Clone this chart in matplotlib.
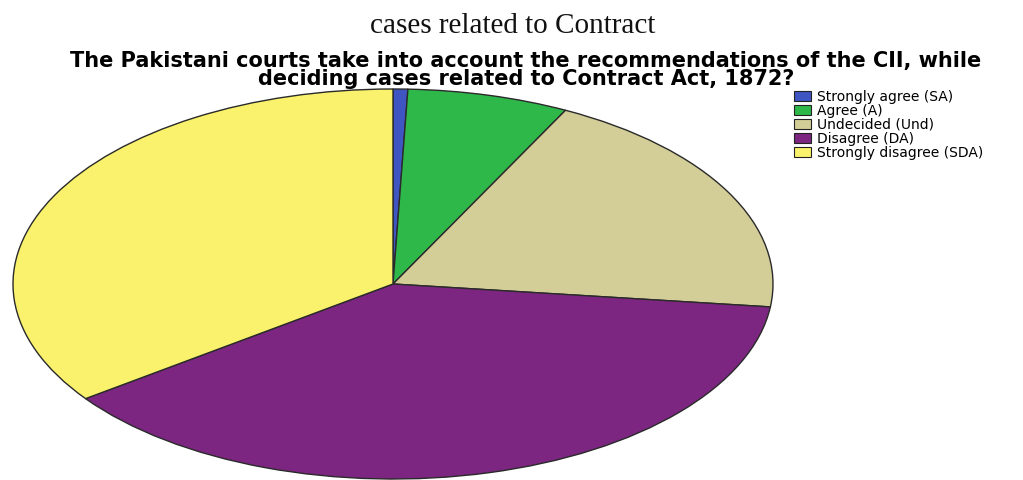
import matplotlib
matplotlib.use("Agg")
import matplotlib.pyplot as plt
from matplotlib.patches import Patch

# Survey responses (counts)
categories = [
    "Strongly agree (SA)",
    "Agree (A)",
    "Undecided (Und)",
    "Disagree (DA)",
    "Strongly disagree (SDA)",
]
counts = [1, 11, 31, 61, 56]
colors = ["#3F55C2", "#2FB84A", "#D3CE97", "#7C2681", "#FAF26C"]

caption = "cases related to Contract"
title = ("The Pakistani courts take into account the recommendations of the CII, while\n"
         "deciding cases related to Contract Act, 1872?")

W, H = 1023, 480
fig = plt.figure(figsize=(W / 100, H / 100), dpi=100)
fig.patch.set_facecolor("white")

# Pie drawn in an axes that is wider than tall, giving an elliptical pie
cx, cy, rx, ry = 393, 284, 380, 195
ax = fig.add_axes([(cx - rx) / W, (H - cy - ry) / H, 2 * rx / W, 2 * ry / H])
ax.pie(counts, colors=colors, startangle=90, counterclock=False,
       wedgeprops=dict(edgecolor="#2a2a2a", linewidth=1.0))
ax.set_aspect("auto")
ax.set_xlim(-1, 1)
ax.set_ylim(-1, 1)
ax.axis("off")

# Document caption above the chart
fig.text(513 / W, 1 - 26 / H, caption, ha="center", va="center",
         fontsize=21, family="Liberation Serif", color="#111111")

# Chart title
fig.text(526 / W, 1 - 70 / H, title, ha="center", va="center",
         fontsize=15, fontweight="bold", family="DejaVu Sans",
         linespacing=0.82, color="black")

# Legend
handles = [Patch(facecolor=c, edgecolor="#222222", linewidth=0.8) for c in colors]
fig.legend(handles, categories, loc="upper left",
           bbox_to_anchor=(794 / W, 1 - 90 / H), frameon=False,
           handlelength=1.2, handleheight=0.75,
           handletextpad=0.45, labelspacing=0.0, borderpad=0,
           borderaxespad=0, prop=dict(family="DejaVu Sans", size=10))

fig.savefig("out.png", dpi=100, facecolor="white")
